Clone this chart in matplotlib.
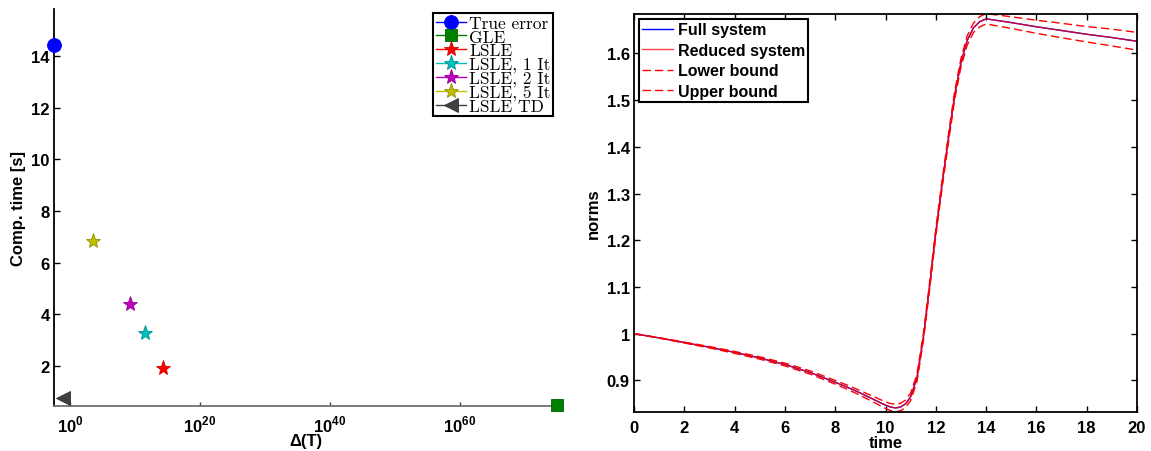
import matplotlib
matplotlib.use('Agg')
import matplotlib.pyplot as plt
from matplotlib.ticker import FixedLocator, NullLocator, FuncFormatter

plt.rcParams['font.family'] = ['Liberation Sans', 'DejaVu Sans']
plt.rcParams['font.weight'] = 'bold'
plt.rcParams['mathtext.fontset'] = 'custom'
plt.rcParams['mathtext.rm'] = 'Liberation Sans:bold'
plt.rcParams['mathtext.bf'] = 'Liberation Sans:bold'

# error estimators: estimated error Delta(T) vs computation time
est_names = ['True error', 'GLE', 'LSLE', 'LSLE, 1 It', 'LSLE, 2 It', 'LSLE, 5 It', 'LSLE TD']
est_delta = [10**-2.46, 1e75, 10**14.3, 10**11.6, 10**9.2, 10**3.6, 1e-1]
est_time = [14.41, 0.50, 1.93, 3.29, 4.39, 6.85, 0.77]
est_markers = ['o', 's', '*', '*', '*', '*', '<']
est_colors = ['#0000ff', '#007f00', '#ff0000', '#00bfbf', '#bf00bf', '#bfbf00', '#404040']
est_edges = ['#0000ff', '#005f00', '#cc0000', '#008f8f', '#8f008f', '#8f8f00', '#303030']
est_sizes = [10, 8, 11, 11, 11, 11, 10]

# norms over time
time = [0, 1, 2, 3, 4, 5, 6, 7, 8, 8.5, 9, 9.5, 10, 10.2, 10.4, 10.6, 10.8, 11,
        11.25, 11.5, 11.75, 12, 12.25, 12.5, 12.75, 13, 13.25, 13.5, 13.75, 14,
        15, 16, 17, 18, 19, 20]
full_norm = [1.000, 0.991, 0.981, 0.971, 0.960, 0.948, 0.934, 0.917, 0.896, 0.885,
             0.873, 0.860, 0.847, 0.843, 0.841, 0.843, 0.850, 0.865, 0.905, 0.990,
             1.100, 1.217, 1.320, 1.417, 1.510, 1.580, 1.628, 1.655, 1.668, 1.674,
             1.666, 1.657, 1.649, 1.641, 1.634, 1.626]
reduced_norm = [1.000, 0.991, 0.981, 0.971, 0.960, 0.948, 0.934, 0.917, 0.896, 0.885,
                0.873, 0.860, 0.847, 0.843, 0.841, 0.843, 0.850, 0.865, 0.905, 0.990,
                1.100, 1.217, 1.320, 1.417, 1.510, 1.580, 1.628, 1.655, 1.668, 1.674,
                1.666, 1.657, 1.649, 1.641, 1.634, 1.626]
lower_bound = [1.000, 0.9905, 0.980, 0.9695, 0.958, 0.9455, 0.931, 0.9135, 0.892, 0.8805,
               0.868, 0.854, 0.840, 0.8355, 0.833, 0.835, 0.842, 0.857, 0.897, 0.982,
               1.092, 1.209, 1.312, 1.408, 1.501, 1.571, 1.618, 1.645, 1.657, 1.663,
               1.6535, 1.643, 1.6335, 1.6245, 1.616, 1.607]
upper_bound = [1.000, 0.9915, 0.982, 0.9725, 0.962, 0.9505, 0.937, 0.9205, 0.900, 0.8895,
               0.878, 0.866, 0.854, 0.8505, 0.849, 0.851, 0.858, 0.873, 0.913, 0.998,
               1.108, 1.225, 1.328, 1.426, 1.519, 1.589, 1.638, 1.665, 1.679, 1.685,
               1.6785, 1.671, 1.6645, 1.6575, 1.652, 1.645]

W, H = 1151, 452
fig = plt.figure(figsize=(W / 100, H / 100), dpi=100)
ax1 = fig.add_axes([54 / W, 1 - 406.7 / H, 503 / W, 396.7 / H])
ax2 = fig.add_axes([634 / W, 1 - 412.7 / H, 503 / W, 398 / H])

# ---- left: estimators
for name, dx, ty, mk, c, ec, ms in zip(est_names, est_delta, est_time, est_markers,
                                        est_colors, est_edges, est_sizes):
    ax1.plot([dx], [ty], marker=mk, color=c, markerfacecolor=c, markeredgecolor=ec,
             markeredgewidth=0.6, markersize=ms, linestyle='-', linewidth=1.0,
             label=name, clip_on=False, zorder=5)

ax1.set_xscale('log')
ax1.set_xlim(10**-2.46, 1e75)
ax1.set_ylim(0.47, 15.82)
ax1.xaxis.set_major_locator(FixedLocator([1e0, 1e20, 1e40, 1e60]))
ax1.xaxis.set_minor_locator(NullLocator())
ax1.set_xticklabels([r'$10^{0}$', r'$10^{20}$', r'$10^{40}$', r'$10^{60}$'])
ax1.set_yticks([2, 4, 6, 8, 10, 12, 14])
ax1.spines['top'].set_visible(False)
ax1.spines['right'].set_visible(False)
ax1.spines['left'].set_linewidth(1.3)
ax1.spines['left'].set_color('black')
ax1.spines['bottom'].set_linewidth(1.3)
ax1.spines['bottom'].set_color('#707070')
ax1.tick_params(axis='y', direction='in', length=4, width=1, labelsize=12, pad=3)
ax1.tick_params(axis='x', direction='in', length=3, width=1, labelsize=12, pad=6,
                color='#404040')
ax1.set_xlabel('Δ(T)', fontsize=12, fontweight='bold', labelpad=-1)
ax1.set_ylabel('Comp. time [s]', fontsize=12, fontweight='bold', labelpad=4)

leg1 = ax1.legend(loc='upper right', bbox_to_anchor=(553 / W, 1 - 14 / H),
                  bbox_transform=fig.transFigure, borderaxespad=0, fancybox=False,
                  edgecolor='black', framealpha=1, handlelength=1.7, handletextpad=0.2,
                  labelspacing=-0.1, borderpad=0.15, numpoints=1,
                  prop={'family': 'cmr10', 'size': 12.5, 'weight': 'normal'})
leg1.get_frame().set_linewidth(1.5)

# ---- right: norms
ax2.plot(time, full_norm, color='#0000ff', linewidth=1.0, label='Full system')
ax2.plot(time, reduced_norm, color='#ff0000', linewidth=1.0, alpha=0.75, label='Reduced system')
ax2.plot(time, lower_bound, color='#ff0000', linewidth=1.0, dashes=(6, 3), label='Lower bound')
ax2.plot(time, upper_bound, color='#ff0000', linewidth=1.0, dashes=(6, 3), label='Upper bound')

ax2.set_xlim(0, 20)
ax2.set_ylim(0.833, 1.685)
ax2.set_xticks(range(0, 21, 2))
ax2.set_yticks([0.9, 1.0, 1.1, 1.2, 1.3, 1.4, 1.5, 1.6])
ax2.yaxis.set_major_formatter(FuncFormatter(lambda v, p: '%g' % round(v, 3)))
for sp in ax2.spines.values():
    sp.set_linewidth(1.3)
ax2.tick_params(axis='both', direction='in', length=4, width=1, labelsize=12,
                top=True, right=True)
ax2.tick_params(axis='y', pad=3)
ax2.tick_params(axis='x', pad=6)
ax2.set_xlabel('time', fontsize=12, fontweight='bold', labelpad=0)
ax2.set_ylabel('norms', fontsize=12, fontweight='bold', labelpad=4)

leg2 = ax2.legend(loc='upper left', bbox_to_anchor=(639.3 / W, 1 - 20 / H),
                  bbox_transform=fig.transFigure, borderaxespad=0, fancybox=False,
                  edgecolor='black', framealpha=1, handlelength=1.9, handletextpad=0.3,
                  labelspacing=0.35, borderpad=0.2,
                  prop={'size': 11.5, 'weight': 'bold'})
leg2.get_frame().set_linewidth(1.5)

fig.savefig('out.png', dpi=100)
